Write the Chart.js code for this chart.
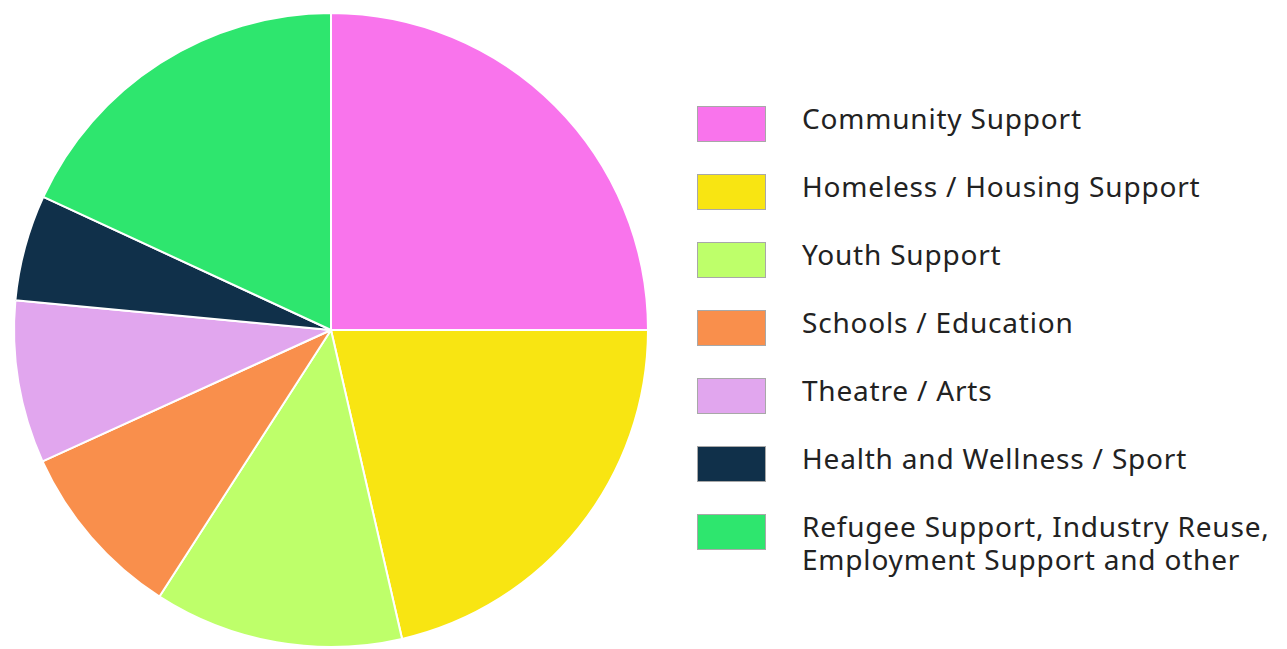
<!DOCTYPE html>
<html>
<head>
<meta charset="utf-8">
<script src="https://cdn.jsdelivr.net/npm/chart.js@4"></script>
<style>
  body { margin: 0; background: #fff; width: 1287px; height: 649px; overflow: hidden; position: relative; }
  #pieWrap { position: absolute; left: 0; top: 0; width: 664px; height: 649px; }
  #legend { position: absolute; left: 697px; top: 106px; font-family: "Noto Sans", sans-serif; font-size: 28px; letter-spacing: 0.8px; color: #222; }
  .item { position: relative; height: 68px; }
  .box { position: absolute; left: 0; top: 0; width: 67px; height: 34px; border: 1px solid #a8a8a8; }
  .txt { position: absolute; left: 105px; top: -4.5px; line-height: 33px; white-space: nowrap; }
</style>
</head>
<body>
<div id="pieWrap"><canvas id="pieChart" width="664" height="649"></canvas></div>
<div id="legend"></div>
<script>
// categories
var labels = [
  "Community Support",
  "Homeless / Housing Support",
  "Youth Support",
  "Schools / Education",
  "Theatre / Arts",
  "Health and Wellness / Sport",
  ["Refugee Support, Industry Reuse,", "Employment Support and other"]
];
// share of total (%)
var shares = [25, 21.4, 12.7, 9.1, 8.3, 5.4, 18.1];
var colors = ["#f974ec", "#f8e512", "#beff6a", "#f98f4c", "#e1a6ee", "#10304a", "#2ee66e"];

// legend
var legend = document.getElementById("legend");
for (var i = 0; i < labels.length; i++) {
  var item = document.createElement("div");
  item.className = "item";
  var box = document.createElement("div");
  box.className = "box";
  box.style.background = colors[i];
  var txt = document.createElement("div");
  txt.className = "txt";
  txt.innerHTML = [].concat(labels[i]).join("<br>");
  item.appendChild(box);
  item.appendChild(txt);
  legend.appendChild(item);
}

// pie
var ctx = document.getElementById("pieChart").getContext('2d');
var myPieChart = new Chart(ctx, {
  type: 'pie',
  data: {
    labels: labels,
    datasets: [{
      data: shares,
      backgroundColor: colors,
      borderColor: '#ffffff',
      borderWidth: 2,
      hoverOffset: 0
    }]
  },
  options: {
    responsive: false,
    animation: false,
    layout: { padding: { left: 13, right: 15, top: 12, bottom: 1 } },
    plugins: {
      legend: { display: false },
      tooltip: { enabled: false }
    }
  }
});
</script>
</body>
</html>
